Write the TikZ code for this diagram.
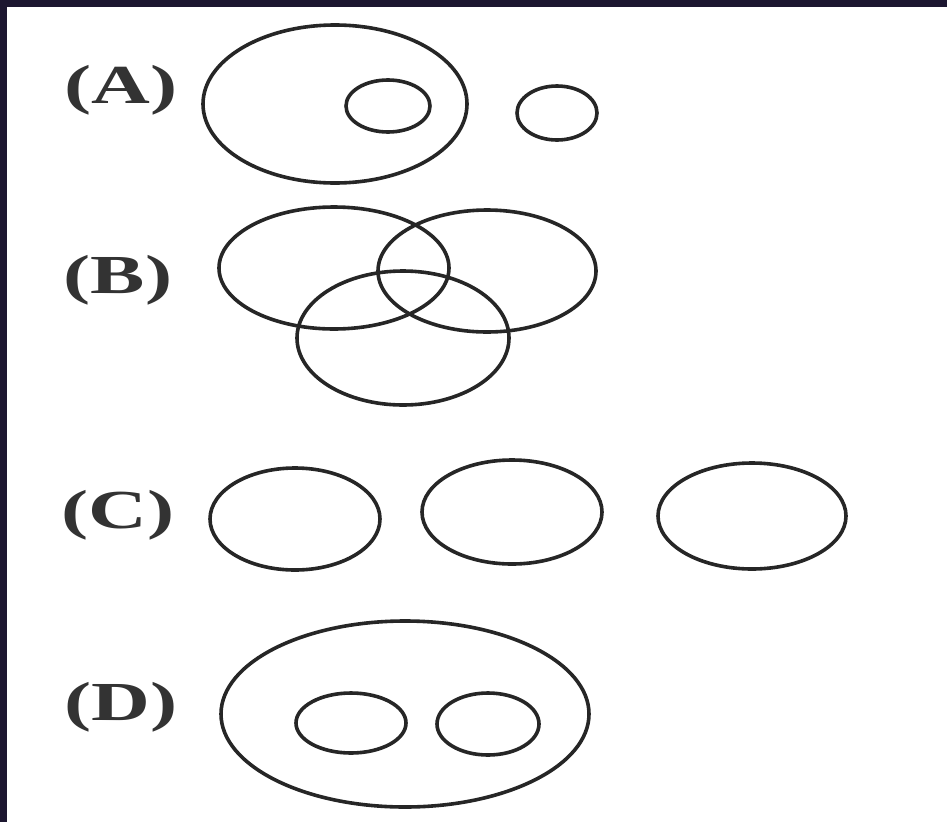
\documentclass[tikz,border=0pt]{standalone}
\usepackage{fontspec}
\setmainfont{Liberation Serif}
\usetikzlibrary{positioning}
\definecolor{framecol}{RGB}{28,22,48}

\begin{document}
\begin{tikzpicture}[
    x=1pt, y=-1pt,
    ring/.style={draw=black!85, line width=3.6pt},
    tag/.style={font=\fontsize{55}{58}\selectfont\bfseries, text=black!80, xscale=1.48, inner sep=0pt}
]
% frame and page
\useasboundingbox (0,0) rectangle (947,822);
\fill[white] (0,0) rectangle (947,822);
\fill[framecol] (0,0) rectangle (947,7);
\fill[framecol] (0,0) rectangle (7,822);

% (A) one set inside another, one apart
\node[tag] (labA) at (121,90) {(A)};
\draw[ring] (335,104) ellipse [x radius=132, y radius=79];
\draw[ring] (388,106) ellipse [x radius=42, y radius=26];
\draw[ring] (557,113) ellipse [x radius=40, y radius=27];

% (B) three overlapping sets
\node[tag] (labB) at (118,280) {(B)};
\draw[ring] (334,268) ellipse [x radius=115, y radius=61];
\draw[ring] (487,271) ellipse [x radius=109, y radius=61];
\draw[ring] (403,338) ellipse [x radius=106, y radius=67];

% (C) three separate sets
\node[tag] (labC) at (118,515) {(C)};
\draw[ring] (295,519) ellipse [x radius=85, y radius=51];
\draw[ring] (512,512) ellipse [x radius=90, y radius=52];
\draw[ring] (752,516) ellipse [x radius=94, y radius=53];

% (D) two sets inside one
\node[tag] (labD) at (121,707) {(D)};
\draw[ring] (405,714) ellipse [x radius=184, y radius=93];
\draw[ring] (351,723) ellipse [x radius=55, y radius=30];
\draw[ring] (488,724) ellipse [x radius=51, y radius=31];

\end{tikzpicture}
\end{document}
